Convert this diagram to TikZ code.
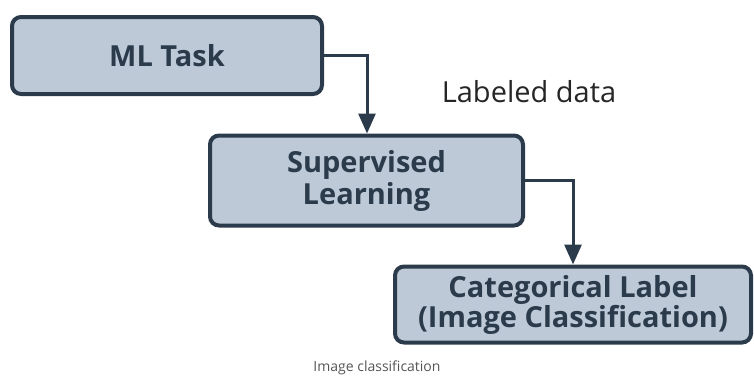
\documentclass[tikz,border=0pt]{standalone}
\usepackage{fontspec}
\setmainfont{Open Sans}
\usetikzlibrary{arrows.meta}
\definecolor{boxfill}{HTML}{BDC9D7}
\definecolor{boxline}{HTML}{2C3B4B}
\definecolor{captiongray}{HTML}{555555}
\tikzset{
  stepbox/.style={draw=boxline, line width=4pt, fill=boxfill, rounded corners=9pt,
    text=boxline, font=\bfseries\fontsize{29}{32}\selectfont, align=center, inner sep=0pt},
  flow/.style={draw=boxline, line width=3pt, -{Triangle[length=20pt,width=17pt]}}
}
\begin{document}
\begin{tikzpicture}[x=1pt,y=-1pt]
  \useasboundingbox (0,0) rectangle (754,384);
  % boxes
  \node[stepbox, minimum width=310pt, minimum height=77pt] (task) at (167,55.5) {ML Task};
  \node[stepbox, minimum width=313pt, minimum height=90pt] (sup) at (366.5,180.5) {Supervised\\Learning};
  \node[stepbox, minimum width=356pt, minimum height=76pt,
        font=\bfseries\fontsize{29}{30}\selectfont] (cat) at (573,304.5) {Categorical Label\\(Image Classification)};
  % connectors
  \draw[flow] (task.east) -| (sup.north -| 367,0);
  \draw[flow] (sup.east) -| (cat.north);
  % texts
  \node[text=black!85, font=\fontsize{29}{34}\selectfont, anchor=base] (lab) at (529,102) {Labeled data};
  \node[text=captiongray, font=\fontsize{14}{17}\selectfont] (cap) at (377,368) {Image classification};
\end{tikzpicture}
\end{document}
